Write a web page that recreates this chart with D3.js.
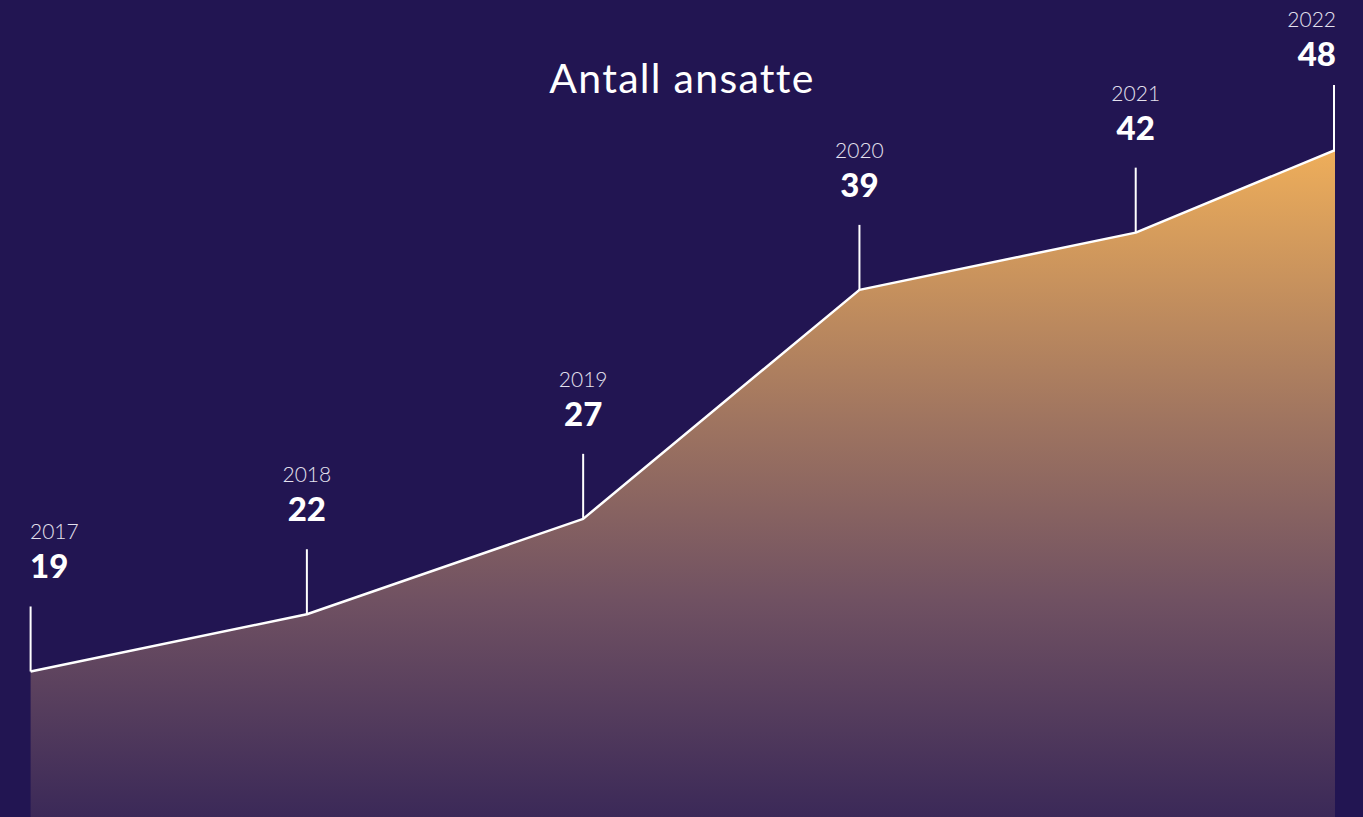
<!DOCTYPE html>
<html>
<head>
<meta charset="utf-8">
<script src="https://cdn.jsdelivr.net/npm/d3@7"></script>
<style>
  html, body { margin: 0; padding: 0; background: #221552; overflow: hidden; }
  svg { display: block; }
</style>
</head>
<body>
<svg id="chart" width="1363" height="817"></svg>
<script>
// Data
const years = [2017, 2018, 2019, 2020, 2021, 2022];
const employees = [19, 22, 27, 39, 42, 48];
const title = "Antall ansatte";

const W = 1363, H = 817;
const svg = d3.select("#chart");

svg.append("rect").attr("width", W).attr("height", H).attr("fill", "#221552");

// Scales (chart continues past the right edge and is clipped)
const x = d3.scaleLinear().domain([2017, 2022]).range([30.6, 1412]);
const y = d3.scaleLinear().domain([0, 50]).range([1034, 80]);
const clipLeft = 30, clipRight = 1335;

const data = years.map((yr, i) => ({ year: yr, value: employees[i] }));

const defs = svg.append("defs");
const grad = defs.append("linearGradient")
  .attr("id", "areaGrad")
  .attr("gradientUnits", "userSpaceOnUse")
  .attr("x1", 0).attr("x2", 0).attr("y1", 140).attr("y2", 817);
[[0, "#f1b05a"], [0.41, "#a07560"], [0.68, "#705162"], [1, "#3b2958"]]
  .forEach(([o, c]) => grad.append("stop").attr("offset", o).attr("stop-color", c));

defs.append("clipPath").attr("id", "clip")
  .append("rect").attr("x", clipLeft).attr("y", 0)
  .attr("width", clipRight - clipLeft).attr("height", H);

const g = svg.append("g").attr("clip-path", "url(#clip)");

const area = d3.area()
  .x(d => x(d.year))
  .y0(y(0))
  .y1(d => y(d.value));
const line = d3.line()
  .x(d => x(d.year))
  .y(d => y(d.value));

g.append("path").datum(data).attr("d", area).attr("fill", "url(#areaGrad)");
g.append("path").datum(data).attr("d", line)
  .attr("fill", "none").attr("stroke", "#ffffff").attr("stroke-width", 2.5)
  .attr("stroke-linejoin", "round");

// Markers: value of line at visible x position
function markerPos(d, i) {
  let px = x(d.year);
  let py = y(d.value);
  if (px > clipRight) {
    const prev = data[i - 1];
    const yrAtEdge = x.invert(clipRight);
    const t = (yrAtEdge - prev.year) / (d.year - prev.year);
    const v = prev.value + t * (d.value - prev.value);
    px = clipRight - 1;
    py = y(v);
  }
  if (px < clipLeft) px = clipLeft + 1;
  return [px, py];
}

const tickLen = 65;
const labels = svg.append("g");
data.forEach((d, i) => {
  const [px, py] = markerPos(d, i);
  const anchor = i === 0 ? "start" : (i === data.length - 1 ? "end" : "middle");
  const tx = i === 0 ? clipLeft : (i === data.length - 1 ? clipRight + 1 : px);
  labels.append("line")
    .attr("x1", px).attr("x2", px)
    .attr("y1", py).attr("y2", py - tickLen)
    .attr("stroke", "#ffffff").attr("stroke-width", 2);
  const valueBase = Math.max(py - tickLen - 28, 66);
  labels.append("text")
    .attr("x", tx).attr("y", valueBase)
    .attr("text-anchor", anchor)
    .attr("fill", "#ffffff")
    .attr("font-family", "Lato, 'Open Sans', sans-serif")
    .attr("font-weight", 900)
    .attr("font-size", 33)
    .text(d.value);
  labels.append("text")
    .attr("x", tx).attr("y", valueBase - 39)
    .attr("text-anchor", anchor)
    .attr("fill", "#e4e1ee")
    .attr("font-family", "Lato, 'Open Sans', sans-serif")
    .attr("font-weight", 300)
    .attr("font-size", 21)
    .text(d.year);
});

svg.append("text")
  .attr("x", 682).attr("y", 93)
  .attr("text-anchor", "middle")
  .attr("fill", "#ffffff")
  .attr("font-family", "Lato, 'Open Sans', sans-serif")
  .attr("font-weight", 400)
  .attr("font-size", 41)
  .attr("letter-spacing", 1.3)
  .text(title);
</script>
</body>
</html>
